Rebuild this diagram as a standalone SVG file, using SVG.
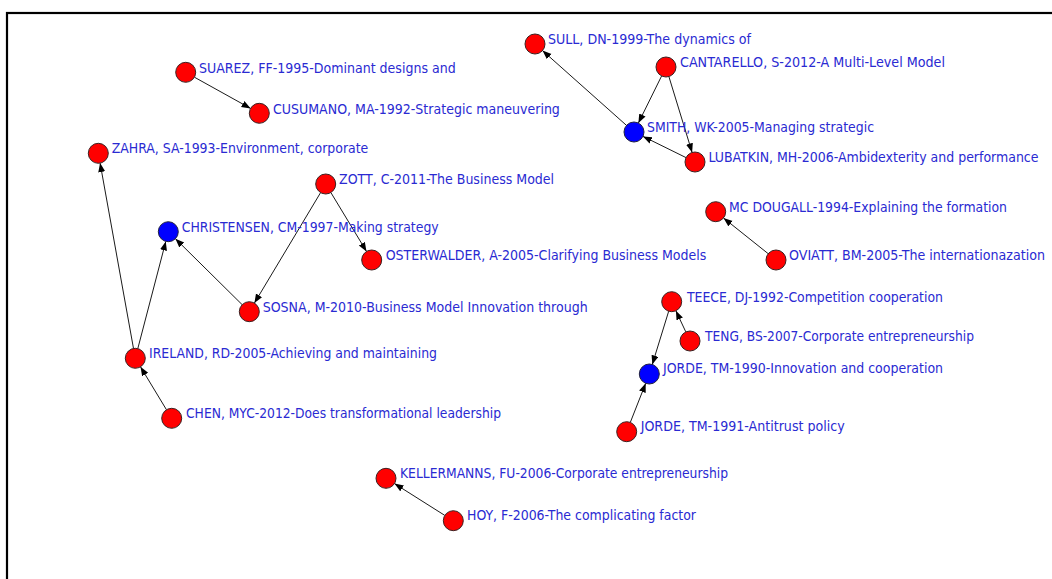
<svg xmlns="http://www.w3.org/2000/svg" width="1052" height="579" viewBox="0 0 1052 579">
  <style>
    .frame { fill: none; stroke: #000; stroke-width: 2.2; }
    .edge { stroke: #1a1a1a; stroke-width: 1; fill: none; marker-end: url(#arrow); }
    .red { fill: #ff0000; stroke: #3a2020; stroke-width: 1; }
    .blue { fill: #0000ff; stroke: #202040; stroke-width: 1; }
    .lbl { font-family: "DejaVu Sans Condensed", "DejaVu Sans", sans-serif; font-stretch: condensed; font-size: 14px; fill: #2a2ad2; }
  </style>
  <defs>
    <marker id="arrow" markerUnits="userSpaceOnUse" markerWidth="10" markerHeight="8" refX="9" refY="3.5" orient="auto">
      <path d="M0,0 L9,3.5 L0,7 z" fill="#000"/>
    </marker>
  </defs>
  <rect x="0" y="0" width="1052" height="579" fill="#fff"/>
  <rect class="frame" x="7" y="13" width="1100" height="700"/>

  <g id="connectors">
    <line class="edge" x1="194.4" y1="77.2" x2="250.6" y2="108.4"/>
    <line class="edge" x1="133.5" y1="348.5" x2="100.1" y2="163.1"/>
    <line class="edge" x1="137.8" y1="348.6" x2="165.8" y2="241.4"/>
    <line class="edge" x1="242.2" y1="304.7" x2="175.4" y2="238.7"/>
    <line class="edge" x1="320.6" y1="192.6" x2="254.4" y2="303.1"/>
    <line class="edge" x1="330.9" y1="192.6" x2="366.5" y2="251.4"/>
    <line class="edge" x1="166.5" y1="409.8" x2="140.5" y2="366.8"/>
    <line class="edge" x1="626.5" y1="125.4" x2="542.5" y2="50.6"/>
    <line class="edge" x1="661.6" y1="76" x2="638.4" y2="123"/>
    <line class="edge" x1="668.9" y1="76.6" x2="692.1" y2="152.4"/>
    <line class="edge" x1="686" y1="157.6" x2="643" y2="136.4"/>
    <line class="edge" x1="768.2" y1="253.7" x2="723.5" y2="218"/>
    <line class="edge" x1="668.7" y1="311.2" x2="652.3" y2="364.4"/>
    <line class="edge" x1="685.8" y1="331.9" x2="675.9" y2="310.8"/>
    <line class="edge" x1="630.3" y1="422.4" x2="645.7" y2="383.3"/>
    <line class="edge" x1="444.8" y1="515.4" x2="394.5" y2="483.6"/>
  </g>

  <g id="suarez"><circle class="red" cx="185.7" cy="72.3" r="10"/><text class="lbl" x="199" y="72.5">SUAREZ, FF-1995-Dominant designs and</text></g>
  <g id="cusumano"><circle class="red" cx="259.3" cy="113.3" r="10"/><text class="lbl" x="273" y="113.5">CUSUMANO, MA-1992-Strategic maneuvering</text></g>
  <g id="zahra"><circle class="red" cx="98.3" cy="153.3" r="10"/><text class="lbl" x="111.7" y="153.3" textLength="256.6" lengthAdjust="spacingAndGlyphs">ZAHRA, SA-1993-Environment, corporate</text></g>
  <g id="zott"><circle class="red" cx="325.7" cy="184" r="10"/><text class="lbl" x="339" y="184">ZOTT, C-2011-The Business Model</text></g>
  <g id="christensen"><circle class="blue" cx="168.3" cy="231.7" r="10"/><text class="lbl" x="181.7" y="231.7" textLength="257" lengthAdjust="spacingAndGlyphs">CHRISTENSEN, CM-1997-Making strategy</text></g>
  <g id="osterwalder"><circle class="red" cx="371.7" cy="260" r="10"/><text class="lbl" x="385.7" y="260">OSTERWALDER, A-2005-Clarifying Business Models</text></g>
  <g id="sosna"><circle class="red" cx="249.3" cy="311.7" r="10"/><text class="lbl" x="262.7" y="311.7">SOSNA, M-2010-Business Model Innovation through</text></g>
  <g id="ireland"><circle class="red" cx="135.3" cy="358.3" r="10"/><text class="lbl" x="149" y="358.3" textLength="288" lengthAdjust="spacingAndGlyphs">IRELAND, RD-2005-Achieving and maintaining</text></g>
  <g id="chen"><circle class="red" cx="171.7" cy="418.3" r="10"/><text class="lbl" x="186" y="418.3" textLength="315" lengthAdjust="spacingAndGlyphs">CHEN, MYC-2012-Does transformational leadership</text></g>

  <g id="sull"><circle class="red" cx="535" cy="44" r="10"/><text class="lbl" x="548" y="44" textLength="203" lengthAdjust="spacingAndGlyphs">SULL, DN-1999-The dynamics of</text></g>
  <g id="cantarello"><circle class="red" cx="666" cy="67" r="10"/><text class="lbl" x="680" y="67" textLength="265" lengthAdjust="spacingAndGlyphs">CANTARELLO, S-2012-A Multi-Level Model</text></g>
  <g id="smith"><circle class="blue" cx="634" cy="132" r="10"/><text class="lbl" x="647" y="131.5" textLength="227" lengthAdjust="spacingAndGlyphs">SMITH, WK-2005-Managing strategic</text></g>
  <g id="lubatkin"><circle class="red" cx="695" cy="162" r="10"/><text class="lbl" x="708.5" y="161.5" textLength="330" lengthAdjust="spacingAndGlyphs">LUBATKIN, MH-2006-Ambidexterity and performance</text></g>

  <g id="mcdougall"><circle class="red" cx="715.7" cy="211.7" r="10"/><text class="lbl" x="729" y="211.7" textLength="278" lengthAdjust="spacingAndGlyphs">MC DOUGALL-1994-Explaining the formation</text></g>
  <g id="oviatt"><circle class="red" cx="776" cy="260" r="10"/><text class="lbl" x="789" y="260" textLength="256" lengthAdjust="spacingAndGlyphs">OVIATT, BM-2005-The internationazation</text></g>

  <g id="teece"><circle class="red" cx="671.7" cy="301.7" r="10"/><text class="lbl" x="687" y="301.7" textLength="256" lengthAdjust="spacingAndGlyphs">TEECE, DJ-1992-Competition cooperation</text></g>
  <g id="teng"><circle class="red" cx="690" cy="341" r="10"/><text class="lbl" x="705" y="341" textLength="269" lengthAdjust="spacingAndGlyphs">TENG, BS-2007-Corporate entrepreneurship</text></g>
  <g id="jorde1990"><circle class="blue" cx="649.3" cy="374" r="10"/><text class="lbl" x="663" y="372.5" textLength="280" lengthAdjust="spacingAndGlyphs">JORDE, TM-1990-Innovation and cooperation</text></g>
  <g id="jorde1991"><circle class="red" cx="626.7" cy="431.7" r="10"/><text class="lbl" x="640.7" y="431" textLength="204" lengthAdjust="spacingAndGlyphs">JORDE, TM-1991-Antitrust policy</text></g>

  <g id="kellermanns"><circle class="red" cx="386" cy="478.3" r="10"/><text class="lbl" x="400" y="477.5" textLength="328" lengthAdjust="spacingAndGlyphs">KELLERMANNS, FU-2006-Corporate entrepreneurship</text></g>
  <g id="hoy"><circle class="red" cx="453.3" cy="520.7" r="10"/><text class="lbl" x="467" y="520" textLength="229" lengthAdjust="spacingAndGlyphs">HOY, F-2006-The complicating factor</text></g>
</svg>
